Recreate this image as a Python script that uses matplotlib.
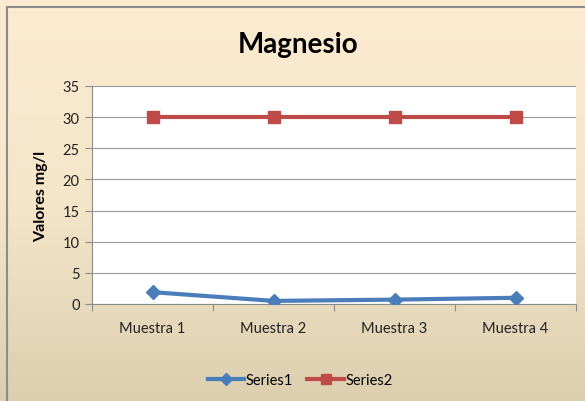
import matplotlib
matplotlib.use("Agg")
import matplotlib.pyplot as plt
import numpy as np
from matplotlib.colors import LinearSegmentedColormap
from matplotlib.patches import Rectangle

categories = ["Muestra 1", "Muestra 2", "Muestra 3", "Muestra 4"]
series1 = [1.9, 0.5, 0.7, 1.0]
series2 = [30, 30, 30, 30]
yticks = [0, 5, 10, 15, 20, 25, 30, 35]

plt.rcParams['font.family'] = ['Lato', 'DejaVu Sans']

fig = plt.figure(figsize=(5.85, 4.02), dpi=100)

# gradient background
bg = fig.add_axes([0, 0, 1, 1], zorder=0)
cmap = LinearSegmentedColormap.from_list("bg", ["#FCEBD1", "#F5E6CA", "#DCCFAF"])
grad = np.linspace(0, 1, 256).reshape(-1, 1)
bg.imshow(grad, aspect='auto', cmap=cmap, extent=[0, 1, 0, 1], origin='upper')
bg.add_patch(Rectangle((7/585, -0.1), 1.2, 1 - 8/402 + 0.1, fill=False,
                       edgecolor='#8C8C8C', linewidth=1.5, transform=bg.transAxes))
bg.set_xlim(0, 1); bg.set_ylim(0, 1)
bg.axis('off')

ax = fig.add_axes([92/585, 1 - 305/402, (576-92)/585, (305-87)/402], zorder=1)
ax.set_facecolor('white')
x = np.arange(len(categories))
ax.plot(x, series1, color='#4A7EBB', linewidth=3, marker='D', markersize=7,
        label='Series1', zorder=3)
ax.plot(x, series2, color='#BE4B48', linewidth=3, marker='s', markersize=8,
        label='Series2', zorder=3)

ax.set_xlim(-0.5, len(categories) - 0.5)
ax.set_ylim(0, 35)
ax.set_yticks(yticks)
ax.grid(axis='y', color='#9A9A9A', linewidth=0.8)
ax.set_axisbelow(True)
ax.set_xticks(np.arange(-0.5, len(categories), 1.0))
ax.set_xticklabels([])
ax.set_xticks(x, minor=True)
ax.set_xticklabels(categories, minor=True)
ax.tick_params(axis='x', which='minor', length=0, pad=12, labelsize=10.5, colors='#222222')
ax.tick_params(axis='x', which='major', length=5, color='#8C8C8C')
ax.tick_params(axis='y', length=5, color='#8C8C8C', labelsize=10.5, labelcolor='#222222', pad=4)
for s in ['top', 'right']:
    ax.spines[s].set_visible(False)
for s in ['left', 'bottom']:
    ax.spines[s].set_color('#8C8C8C')
ax.set_ylabel('Valores mg/l', fontsize=11.5, fontweight='bold', labelpad=10)

fig.text(298/585, 1 - 45/402, 'Magnesio', ha='center', va='center',
         fontsize=20, fontweight='bold')

handles, labels = ax.get_legend_handles_labels()
fig.legend(handles, labels, loc='center', bbox_to_anchor=(300/585, 1 - 381/402),
           ncol=2, frameon=False, fontsize=10.5, handlelength=2.5,
           columnspacing=1.0, handletextpad=0.1, markerscale=0.9)

fig.savefig('out.png', dpi=100)
